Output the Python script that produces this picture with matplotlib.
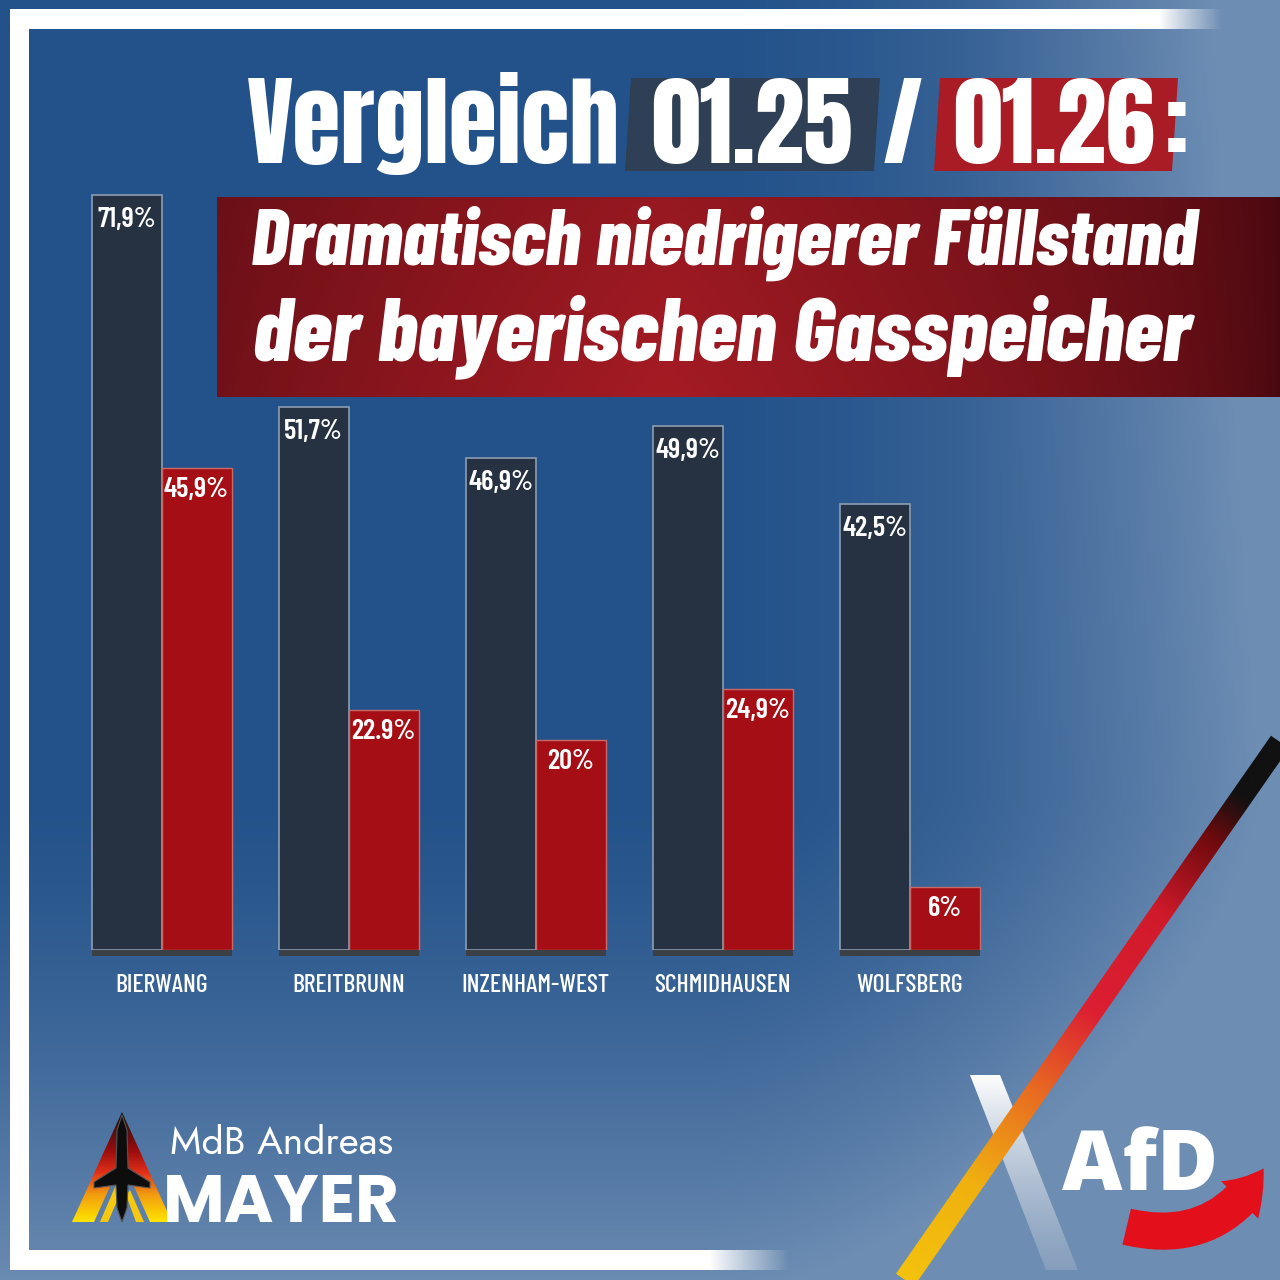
import numpy as np
import matplotlib
matplotlib.use("Agg")
import matplotlib.pyplot as plt
from matplotlib.patches import Polygon, Rectangle, FancyArrowPatch
from matplotlib.colors import LinearSegmentedColormap
import warnings
warnings.filterwarnings("ignore")

# ---------------- data ----------------
categories = ["BIERWANG", "BREITBRUNN", "INZENHAM-WEST", "SCHMIDHAUSEN", "WOLFSBERG"]
values_2025 = [71.9, 51.7, 46.9, 49.9, 42.5]
values_2026 = [45.9, 22.9, 20.0, 24.9, 6.0]
labels_2025 = ["71,9%", "51,7%", "46,9%", "49,9%", "42,5%"]
labels_2026 = ["45,9%", "22.9%", "20%", "24,9%", "6%"]

W = H = 1280
fig = plt.figure(figsize=(12.8, 12.8), dpi=100)

# background / overlay axes in pixel coords
bg = fig.add_axes([0, 0, 1, 1], zorder=0)
bg.set_xlim(0, W); bg.set_ylim(H, 0); bg.axis("off")
fg = fig.add_axes([0, 0, 1, 1], zorder=3)
fg.set_xlim(0, W); fg.set_ylim(H, 0); fg.axis("off")
fg.patch.set_alpha(0)

# background gradient
yy, xx = np.mgrid[0:1:320j, 0:1:320j]
base = np.array([35, 82, 138]) / 255
light = np.array([118, 148, 184]) / 255
t = 0.85 * np.clip((xx - 0.55) / 0.45, 0, 1) ** 1.6 + 0.85 * np.clip((yy - 0.62) / 0.38, 0, 1) ** 1.4
t += 0.25 * np.clip((xx - 0.75) / 0.25, 0, 1) * np.clip(1 - yy, 0, 1)
t = np.clip(t, 0, 0.9)
img = base[None, None, :] * (1 - t[..., None]) + light[None, None, :] * t[..., None]
bg.imshow(img, extent=(0, W, H, 0), aspect="auto", interpolation="bilinear", zorder=0)


def grad_fill(ax, verts, func, zorder, res=2):
    verts = np.asarray(verts, float)
    x0, y0 = verts.min(axis=0)
    x1, y1 = verts.max(axis=0)
    nx = max(int((x1 - x0) / res), 2)
    ny = max(int((y1 - y0) / res), 2)
    gy, gx = np.mgrid[y0:y1:ny * 1j, x0:x1:nx * 1j]
    rgba = func(gx, gy)
    im = ax.imshow(rgba, extent=(x0, x1, y1, y0), aspect="auto",
                   interpolation="bilinear", zorder=zorder)
    poly = Polygon(verts, closed=True, transform=ax.transData, facecolor="none", edgecolor="none")
    ax.add_patch(poly)
    im.set_clip_path(poly)
    return im


# white frame (left, top, bottom)
bg.add_patch(Rectangle((10, 9), 19, 1261, color="white", zorder=1, lw=0))


def hfade(x_start, x_end):
    def f(gx, gy):
        a = np.clip((x_end - gx) / (x_end - x_start), 0, 1)
        rgba = np.ones(gx.shape + (4,))
        rgba[..., 3] = a
        return rgba
    return f

bg.add_patch(Rectangle((10, 9), 1150, 20, color="white", zorder=1, lw=0))
grad_fill(bg, [(1159, 9), (1222, 9), (1222, 29), (1159, 29)], hfade(1159, 1222), 1, res=1)
bg.add_patch(Rectangle((10, 1250), 700, 20, color="white", zorder=1, lw=0))
grad_fill(bg, [(709, 1250), (790, 1250), (790, 1270), (709, 1270)], hfade(709, 790), 1, res=1)

# ---------------- bars ----------------
ax = fig.add_axes([68 / W, (H - 950) / H, (1003.5 - 68) / W, 840 / H], zorder=1)
ax.patch.set_alpha(0)
ax.set_xlim(-0.5, 4.5)
ax.set_ylim(0, 80)
for s in ax.spines.values():
    s.set_visible(False)
ax.set_xticks([]); ax.set_yticks([])

x = np.arange(len(categories))
w = 70 / 187.1
ax.bar(x, [-0.6] * len(x), 2 * w, color="#3b3f46", clip_on=False, zorder=1)
ax.bar(x - w / 2, values_2025, w, color="#263241", edgecolor="#8d9db2", linewidth=1.2, zorder=2)
ax.bar(x + w / 2, values_2026, w, color="#a50e15", edgecolor="#c86a6a", linewidth=1.0, zorder=2)

val_font = ["Barlow Condensed", "Oswald", "DejaVu Sans"]
for xi, v, lab in zip(x - w / 2, values_2025, labels_2025):
    ax.annotate(lab, (xi, v), xytext=(0, -32), textcoords="offset pixels",
                ha="center", va="baseline", color="white", fontsize=20.5,
                fontweight="semibold", family=val_font, zorder=4)
for xi, v, lab in zip(x + w / 2, values_2026, labels_2026):
    ax.annotate(lab, (xi, v), xytext=(0, -29), textcoords="offset pixels",
                ha="center", va="baseline", color="white", fontsize=20.5,
                fontweight="semibold", family=val_font, zorder=4)
for xi, c in zip(x, categories):
    ax.annotate(c, (xi, 0), xytext=(0, -42), textcoords="offset pixels",
                ha="center", va="baseline", color="white", fontsize=18.5,
                fontweight="medium", family=val_font, annotation_clip=False)

# ---------------- title ----------------
title_font = ["Anton", "Bebas Neue", "DejaVu Sans"]
fg.add_patch(Polygon([(631, 78), (880, 78), (874, 171), (625, 171)], color="#2e3f56", lw=0))
fg.add_patch(Polygon([(940, 78), (1178, 78), (1172, 171), (934, 171)], color="#a91c25", lw=0))
tkw = dict(color="white", fontsize=71, family=title_font, va="baseline", ha="center")
fg.text(433, 163, "Vergleich", **tkw)
fg.text(752, 163, "01.25", **tkw)
fg.text(903, 163, "/", **tkw)
fg.text(1054, 163, "01.26", **tkw)
fg.text(1177, 163, ":", **tkw)

# subtitle red box with gradient
def red_box(gx, gy):
    u = (gx - 217) / (1280 - 217)
    v = (gy - 197) / 200
    g = np.clip(1 - np.abs(u - 0.42) / 0.58, 0, 1) ** 0.6
    g = g * (0.85 + 0.15 * v)
    dark = np.array([70, 8, 15]) / 255
    bright = np.array([165, 27, 36]) / 255
    rgba = np.ones(gx.shape + (4,))
    rgba[..., :3] = dark * (1 - g[..., None]) + bright * g[..., None]
    return rgba

grad_fill(fg, [(217, 197), (1280, 197), (1280, 397), (217, 397)], red_box, 1)
sub_font = ["Barlow Condensed", "Saira Extra Condensed", "DejaVu Sans"]
fg.text(724, 265, "Dramatisch niedrigerer Füllstand", color="white", fontsize=57.5,
        fontweight="heavy", style="italic", family=sub_font, ha="center", va="baseline", zorder=2)
fg.text(722, 360, "der bayerischen Gasspeicher", color="white", fontsize=64.5,
        fontweight="heavy", style="italic", family=sub_font, ha="center", va="baseline", zorder=2)

# ---------------- MAYER logo ----------------
def tricolor_vertical(y_top, y_bot):
    cm = LinearSegmentedColormap.from_list("t", [(0, "#111111"), (0.35, "#9a0c0c"), (0.55, "#e0301a"),
                                                 (0.75, "#f29a10"), (1, "#ffe400")])
    def f(gx, gy):
        s = np.clip((gy - y_top) / (y_bot - y_top), 0, 1)
        return cm(s)
    return f

a_outer = [(72, 1222), (122, 1112), (172, 1222), (150, 1222), (122, 1160), (94, 1222)]
grad_fill(fg, a_outer, tricolor_vertical(1112, 1222), 2, res=1)
fg.add_patch(Polygon([(100, 1222), (118, 1180), (126, 1180), (108, 1222)], color="#f7c810", lw=0, zorder=2))
fg.add_patch(Polygon([(136, 1222), (126, 1195), (130, 1190), (144, 1222)], color="#f7c810", lw=0, zorder=2))
rocket = [(122, 1115), (127, 1130), (128, 1168), (150, 1182), (150, 1188), (128, 1185), (127, 1208),
          (122, 1222), (117, 1208), (116, 1185), (94, 1188), (94, 1182), (116, 1168), (117, 1130)]
fg.add_patch(Polygon(rocket, facecolor="#0d0d0d", edgecolor="#555555", lw=0.8, zorder=3))
fg.text(170, 1154, "MdB Andreas", color="white", fontsize=28, family=["Jost", "Lato", "DejaVu Sans"],
        ha="left", va="baseline", zorder=4)
fg.text(163, 1222, "MAYER", color="white", fontsize=48.5, fontweight="bold",
        family=["Poppins", "Montserrat", "Jost", "DejaVu Sans"], ha="left", va="baseline", zorder=4)

# ---------------- AfD logo ----------------
def white_stroke(gx, gy):
    s = np.clip((gy - 1075) / 195, 0, 1)
    rgba = np.ones(gx.shape + (4,))
    c0 = np.array([1, 1, 1]); c1 = np.array([0.62, 0.69, 0.78])
    rgba[..., :3] = c0 * (1 - s[..., None]) + c1 * s[..., None]
    rgba[..., 3] = 1 - 0.5 * s
    return rgba

grad_fill(fg, [(970, 1075), (1000, 1075), (1078, 1270), (1046, 1270)], white_stroke, 1, res=1)

p0 = np.array([905.0, 1280.0]); p1 = np.array([1280.0, 742.0])
d = (p1 - p0) / np.linalg.norm(p1 - p0)
nrm = np.array([-d[1], d[0]]) * 11
stripe = [p0 + nrm, p1 + nrm, p1 - nrm, p0 - nrm]
scm = LinearSegmentedColormap.from_list("s", [(0, "#f4c20d"), (0.18, "#f0b010"), (0.35, "#e86a22"),
                                              (0.5, "#dc1f32"), (0.68, "#d01a2a"), (0.82, "#6e0a0e"),
                                              (0.9, "#111111"), (1, "#111111")])
def stripe_f(gx, gy):
    s = ((gx - p0[0]) * d[0] + (gy - p0[1]) * d[1]) / np.linalg.norm(p1 - p0)
    return scm(np.clip(s, 0, 1))

grad_fill(fg, stripe, stripe_f, 2, res=1)

fg.text(1140, 1190, "AfD", color="white", fontsize=60, fontweight="heavy",
        family=["Open Sans", "Lato", "DejaVu Sans"], ha="center", va="baseline", zorder=4)
arrow = FancyArrowPatch((1124, 1226), (1265, 1166), connectionstyle="arc3,rad=0.38",
                        arrowstyle="simple,head_width=2.0,head_length=1.5,tail_width=1.4",
                        mutation_scale=19, color="#e3101c", lw=0, zorder=4)
fg.add_patch(arrow)

fig.savefig("out.png", dpi=100)
